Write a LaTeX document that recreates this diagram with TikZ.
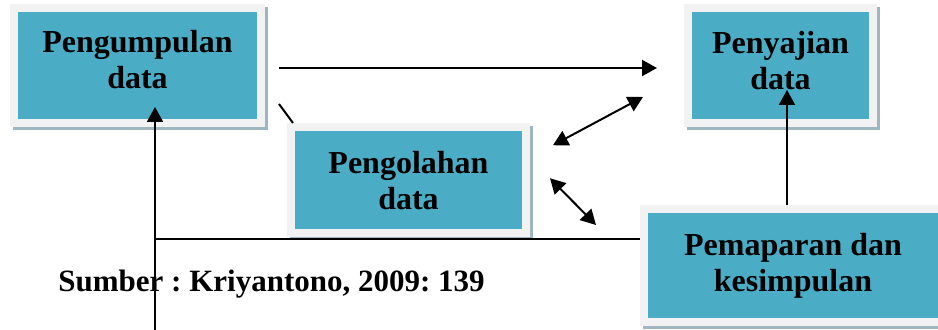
\documentclass[tikz,border=0pt]{standalone}
\usepackage{fontspec}
\setmainfont{Liberation Serif}
\frenchspacing
\usetikzlibrary{arrows.meta,shadows}
\definecolor{isi}{HTML}{4BACC6}
\definecolor{bingkai}{HTML}{F2F2F2}
\definecolor{bayang}{HTML}{9EB6C2}
\tikzset{
	kotak/.style={fill=isi, draw=bingkai, line width=4pt, inner sep=0pt, outer sep=0pt,
		align=center, font=\fontsize{16}{18}\selectfont\bfseries,
		drop shadow={shadow xshift=1.5pt, shadow yshift=-1.5pt, fill=bayang, draw=bayang, line width=4pt, opacity=1}},
	panah/.style={line width=1pt, -{Triangle[length=7.5pt,width=8pt]}},
	panahdua/.style={line width=1pt, {Triangle[length=7.5pt,width=8pt]}-{Triangle[length=7.5pt,width=8pt]}}
}
\begin{document}
\begin{tikzpicture}[x=0.5pt, y=-0.5pt]
		\useasboundingbox (0,0) rectangle (938,330);
		\clip (0,0) rectangle (938,330);
		\node[kotak, minimum width=123.5pt, minimum height=57.5pt, text depth=6pt] (kumpul) at (137.5,65.5) {Pengumpulan\\data};
		\node[kotak, minimum width=92.5pt, minimum height=57.5pt, text depth=5.5pt] (saji) at (780.5,65.5) {Penyajian\\data};
		\node[kotak, minimum width=117.5pt, minimum height=52.75pt] (olah) at (408.5,180.25) {Pengolahan\\data};
		\node[kotak, minimum width=149pt, minimum height=56.75pt] (papar) at (793,265.75) {Pemaparan dan\\kesimpulan};
		\node[anchor=base west, inner sep=0pt, font=\fontsize{15.5}{18}\selectfont\bfseries] (sumber) at (58,292) {Sumber : Kriyantono, 2009: 139};
		\coordinate (bawah) at (155,332);
		\coordinate (k1) at (kumpul.south -| bawah);
		\coordinate (p1) at ([shift={(-2pt,13.5pt)}]papar.west);
		\coordinate (pn) at ([xshift=-3pt]papar.north);
		\coordinate (sn) at (saji.south -| pn);
		\draw[panah, shorten <=9pt, shorten >=15.5pt] ([yshift=-1.25pt]kumpul.east) -- ([yshift=-1.25pt]saji.west);
		\draw[line width=1pt] ([shift={(9pt,9.5pt)}]kumpul.south east) -- ([shift={(1pt,2.25pt)}]olah.north west);
		\draw[panahdua] ([shift={(13.5pt,17.5pt)}]olah.east) -- ([shift={(-22.5pt,13pt)}]saji.south west);
		\draw[panahdua] ([shift={(12pt,1pt)}]olah.east) -- ([shift={(-24pt,-8pt)}]papar.north west);
		\draw[panah] ([yshift=2pt]pn) -- ([yshift=16.5pt]sn);
		\draw[panah] (bawah) -- ([yshift=8pt]k1);
		\draw[line width=1pt] (p1) -- (p1 -| bawah);
	\end{tikzpicture}
\end{document}
